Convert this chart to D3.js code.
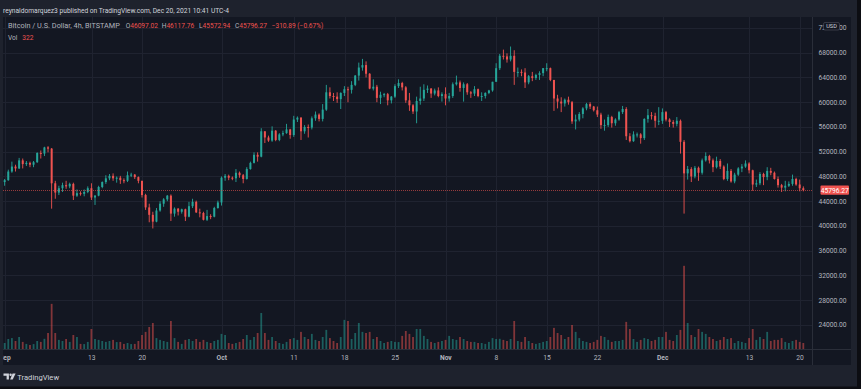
<!DOCTYPE html>
<html>
<head>
<meta charset="utf-8">
<script src="https://cdn.jsdelivr.net/npm/d3@7"></script>
<style>
  body { margin: 0; background: #0c0d12; }
  text { font-family: Roboto, "Liberation Sans", sans-serif; }
</style>
</head>
<body>
<div id="chart-area"></div>
<script>

let width = 861,
    height = 389;

// 12h candles, first one opens Aug 31 12:00 UTC (prices in thousand USD)
let firstOpenTime = "2021-08-31T12:00:00Z";
let firstOpen = 47.4;

let closes = [
  47.1, 47.4,48.8, 49.6,49.3, 50.6,50.0, 50.2,49.9, 50.3,51.8, 51.7,52.7,
  52.5,46.9, 45.4,46.1, 46.6,46.4, 46.8,44.9, 45.3,45.2, 45.5,46.1, 44.6,44.9,
  46.3,47.1, 47.7,48.1, 47.7,47.8, 47.4,47.3, 48.2,48.3, 47.9,47.3, 45.0,43.0,
  41.8,40.7, 42.5,43.6, 44.3,44.9, 42.0,42.8, 42.3,42.7, 41.5,43.2, 43.9,42.2,
  42.1,41.0, 41.6,41.5, 42.9,43.8, 47.8,48.1, 47.8,47.7, 48.6,48.2, 47.6,49.2,
  50.2,51.5, 51.2,55.3, 54.3,53.8, 55.4,53.9, 54.8,55.0, 55.6,54.7, 57.2,57.5,
  55.3,56.0, 55.9,57.4, 58.0,57.3, 58.8,61.6, 61.0,60.9, 60.5,61.5, 62.1,62.0,
  62.8,64.3, 65.6,66.0, 64.6,62.2, 62.5,60.7, 61.2,61.3, 60.3,60.9, 62.6,63.1,
  62.4,60.3, 59.5,58.5, 60.2,60.6, 62.0,62.2, 61.4,61.9, 61.0,61.3, 60.6,61.0,
  62.9,63.2, 62.3,62.9, 61.6,61.4, 62.1,61.0, 61.0,61.5, 61.9,63.3, 65.5,67.5,
  67.4,66.9, 67.5,64.9, 64.9,64.8, 63.2,64.2, 63.9,64.4, 64.7,65.5, 65.5,63.6,
  60.6,60.1, 59.8,60.4, 60.0,56.9, 57.2,58.1, 59.0,59.7, 59.3,58.7, 58.0,56.3,
  56.3,57.6, 56.6,57.2, 58.4,58.9, 54.5,53.7, 54.8,54.8, 54.2,57.3, 57.9,57.8,
  57.0,57.0, 58.4,57.2, 56.8,56.5, 57.0,53.6, 48.5,49.2, 48.0,49.4, 48.6,50.6,
  51.3,50.6, 49.5,50.5, 49.6,47.6, 48.9,47.2, 48.3,49.3, 49.6,50.1, 49.0,46.7,
  46.9,48.4, 47.9,48.9, 48.6,47.6, 46.6,46.2, 46.5,46.8, 47.6,46.7, 46.1,45.8
];

let highs = [
  48.2, 47.6,49.1, 50.4,49.9, 51.0,50.9, 50.5,50.4, 50.5,51.9, 52.2,52.8,
  52.9,52.6, 47.3,46.5, 47.0,47.3, 47.0,47.0, 45.9,45.6, 45.9,46.4, 46.9,45.0,
  46.5,47.2, 48.2,48.4, 48.5,48.0, 48.1,47.7, 48.8,48.6, 48.4,48.0, 47.3,45.2,
  43.6,42.3, 42.9,44.0, 44.5,45.0, 45.1,43.0, 42.9,42.8, 42.8,43.9, 44.4,44.1,
  42.8,42.3, 42.6,41.9, 43.1,44.1, 48.0,48.4, 48.3,48.0, 49.2,48.8, 48.4,49.5,
  50.4,51.9, 51.9,55.8, 55.3,54.6, 56.1,55.5, 55.0,55.4, 56.5,55.7, 57.8,57.7,
  57.6,56.3, 56.4,57.7, 58.5,58.2, 59.7,62.8, 62.4,61.5, 61.6,61.6, 62.6,62.5,
  63.4,64.4, 66.4,67.0, 66.6,64.7, 63.7,62.8, 61.7,61.5, 61.5,61.0, 62.9,63.7,
  63.3,62.6, 61.5,59.7, 60.9,62.5, 62.9,62.7, 62.3,62.2, 62.4,61.6, 62.4,61.5,
  63.2,64.3, 63.5,63.2, 63.1,61.8, 62.6,62.2, 61.6,61.6, 62.0,63.3, 66.3,67.8,
  68.5,67.9, 69.0,68.4, 65.6,65.3, 65.5,64.4, 64.9,64.6, 65.0,65.5, 66.3,65.6,
  63.6,61.2, 60.8,60.6, 60.9,60.2, 58.0,58.4, 59.2,59.9, 60.0,59.4, 59.3,58.3,
  57.2,58.0, 57.8,57.4, 58.6,59.4, 59.2,55.0, 55.3,55.1, 55.0,57.4, 58.9,58.4,
  58.3,59.2, 59.0,58.6, 57.4,57.1, 57.6,57.2, 53.9,49.7, 49.5,49.7, 49.6,50.9,
  51.9,51.5, 50.9,51.2, 50.8,49.8, 50.1,49.2, 48.6,49.5, 50.0,50.6, 50.3,49.1,
  47.5,48.7, 48.6,49.5, 49.4,48.8, 48.0,46.8, 47.3,47.2, 48.3,47.8, 47.5,46.4
];

let lows = [
  46.7, 46.5,47.3, 48.6,48.8, 49.2,49.3, 49.7,49.5, 49.5,50.2, 50.9,51.3,
  51.9,42.8, 44.4,45.0, 45.5,46.0, 46.1,44.2, 44.7,44.9, 44.8,45.3, 44.2,43.4,
  44.8,46.1, 46.8,47.4, 47.3,47.0, 46.8,46.9, 47.1,47.9, 47.6,46.9, 44.6,42.6,
  40.6,39.6, 40.6,42.3, 43.1,44.0, 40.8,41.5, 41.7,42.0, 40.8,41.4, 42.9,42.1,
  41.4,40.9, 40.8,41.1, 41.4,42.8, 43.3,47.3, 47.4,47.4, 47.1,47.8, 46.9,47.5,
  49.1,50.1, 50.4,51.1, 53.4,53.6, 53.6,53.7, 53.7,54.5, 54.9,54.1, 54.4,56.8,
  53.9,54.9, 54.3,55.6, 57.0,56.9, 56.9,58.6, 60.6,60.2, 59.9,58.9, 61.0,60.0,
  61.4,62.6, 63.5,65.1, 64.0,62.1, 61.9,60.0, 59.7,60.8, 59.5,59.8, 60.7,62.3,
  61.9,59.9, 58.6,58.1, 56.6,59.6, 60.2,61.5, 60.7,61.1, 60.8,60.1, 59.5,60.1,
  60.7,62.7, 61.7,60.1, 61.2,60.7, 61.0,60.8, 60.2,60.6, 61.3,61.7, 63.3,65.2,
  66.9,66.4, 66.6,62.8, 64.1,64.2, 62.3,62.9, 63.4,63.6, 63.6,64.2, 65.0,63.4,
  58.6,59.0, 58.4,59.3, 59.6,56.5, 55.6,56.9, 57.4,58.7, 58.9,58.5, 57.6,55.7,
  55.4,56.0, 55.9,56.2, 57.0,58.1, 53.9,53.5, 53.6,54.3, 53.3,53.9, 56.7,57.2,
  55.9,56.3, 56.5,56.9, 56.0,55.9, 56.1,51.7, 42.0,47.5, 47.1,47.7, 47.3,48.3,
  50.4,50.1, 48.7,49.3, 49.2,47.4, 47.3,47.0, 46.9,48.1, 48.7,49.4, 48.5,45.7,
  46.3,46.6, 46.6,47.4, 48.2,47.5, 46.2,45.5, 45.6,46.3, 46.5,46.5, 45.6,45.6
];

let volumes = [
  280, 330,550, 600,440, 660,390, 280,220, 270,440, 390,560,
  880,2480, 880,500, 440,550, 390,770, 660,280, 270,390, 1100,550,
  500,440, 390,440, 500,380, 390,280, 330,270, 280,440, 770,940,
  1210,1430, 600,500, 440,390, 1540,600, 390,280, 500,550, 440,550,
  390,500, 390,330, 440,500, 830,770, 330,280, 330,390, 550,770,
  500,660, 880,1980, 880,500, 660,440, 330,280, 390,550, 600,500,
  940,660, 550,830, 500,440, 660,1050, 600,440, 330,660, 1600,1540,
  550,880, 1430,940, 880,940, 550,660, 440,330, 390,440, 390,380,
  720,990, 830,660, 1100,1100, 720,550, 390,330, 390,440, 500,720,
  550,500, 660,550, 440,390, 390,330, 330,280, 390,600, 550,560,
  500,440, 550,1540, 440,390, 660,440, 330,280, 330,390, 440,660,
  1160,880, 770,550, 660,1320, 940,600, 440,390, 330,390, 500,720,
  660,500, 390,440, 440,500, 1490,1100, 550,390, 500,600, 550,440,
  500,660, 660,940, 500,440, 770,1050, 4570,1430, 770,660, 1100,940,
  830,660, 550,440, 500,660, 550,600, 330,440, 390,330, 600,1100,
  500,660, 550,940, 440,500, 500,600, 390,330, 440,500, 390,330
];

let priceTicks = [24000, 28000, 32000, 36000, 40000, 44000, 48000, 52000, 56000, 60000, 64000, 68000, 72000];
let timeTicks = ["2021-09-01", "2021-09-13", "2021-09-20", "2021-10-01", "2021-10-11", "2021-10-18", "2021-10-25",
                 "2021-11-01", "2021-11-08", "2021-11-15", "2021-11-22", "2021-12-01", "2021-12-13", "2021-12-20"];
let timeLabels = ["Sep", "13", "20", "Oct", "11", "18", "25", "Nov", "8", "15", "22", "Dec", "13", "20"];
let lastPrice = 45796.27;

let plotLeft = 3, plotRight = 812, plotTop = 17, plotBottom = 349;

let svg = d3.select("#chart-area").append("svg")
    .attr("width", width)
    .attr("height", height);

// frame and panes
svg.append("rect").attr("width", 857).attr("height", 386.5).attr("fill", "#1e222d");
svg.append("rect").attr("x", 3).attr("y", 17).attr("width", 848).attr("height", 348).attr("fill", "#131722");

let defs = svg.append("defs");
defs.append("clipPath").attr("id", "clip")
    .append("rect").attr("x", plotLeft).attr("y", plotTop)
    .attr("width", plotRight - plotLeft).attr("height", plotBottom - plotTop);
defs.append("clipPath").attr("id", "tclip")
    .append("rect").attr("x", plotLeft).attr("y", plotBottom)
    .attr("width", plotRight - plotLeft).attr("height", 16);

// chart axis is shown in UTC-4
let x = d3.scaleUtc()
    .domain([new Date("2021-09-13T00:00:00-04:00"), new Date("2021-12-20T00:00:00-04:00")])
    .range([91.7, 800]);
let y = d3.scaleLinear().domain([24000, 68000]).range([325, 52.7]);
let yVol = d3.scaleLinear().domain([0, 5000]).range([plotBottom, 258]);

function tickDate(d) { return new Date(d + "T00:00:00-04:00"); }

let candles = closes.map(function(c, i) {
  return {
    time: new Date(Date.parse(firstOpenTime) + i * 12 * 3600e3 + 3 * 3600e3),
    open: (i === 0 ? firstOpen : closes[i - 1]) * 1000,
    high: highs[i] * 1000,
    low: lows[i] * 1000,
    close: c * 1000,
    volume: volumes[i]
  };
});

// grid
let grid = svg.append("g").attr("stroke", "#1f2330").attr("stroke-width", 1);
grid.selectAll(".hgrid").data(priceTicks).enter().append("line")
    .attr("x1", plotLeft).attr("x2", plotRight)
    .attr("y1", function(d) { return Math.round(y(d)) + 0.5; })
    .attr("y2", function(d) { return Math.round(y(d)) + 0.5; });
grid.selectAll(".vgrid").data(timeTicks).enter().append("line")
    .attr("x1", function(d) { return Math.round(x(tickDate(d))) + 0.5; })
    .attr("x2", function(d) { return Math.round(x(tickDate(d))) + 0.5; })
    .attr("y1", plotTop).attr("y2", plotBottom);

// axis separators
svg.append("line").attr("x1", plotRight + 0.5).attr("x2", plotRight + 0.5).attr("y1", plotTop).attr("y2", 365)
    .attr("stroke", "#2a2e39");
svg.append("line").attr("x1", plotLeft).attr("x2", 851).attr("y1", plotBottom + 0.5).attr("y2", plotBottom + 0.5)
    .attr("stroke", "#2a2e39");

let plot = svg.append("g").attr("clip-path", "url(#clip)");

function up(d) { return d.close >= d.open; }

// volume
plot.selectAll(".vol").data(candles).enter().append("rect")
    .attr("class", "vol")
    .attr("x", function(d) { return x(d.time) - 0.9; })
    .attr("width", 1.8)
    .attr("y", function(d) { return yVol(d.volume); })
    .attr("height", function(d) { return plotBottom - yVol(d.volume); })
    .attr("fill", function(d) { return up(d) ? "rgba(38,166,154,0.5)" : "rgba(239,83,80,0.5)"; });

// candles
plot.selectAll(".wick").data(candles).enter().append("rect")
    .attr("class", "wick")
    .attr("x", function(d) { return x(d.time) - 0.45; })
    .attr("width", 0.9)
    .attr("y", function(d) { return y(d.high); })
    .attr("height", function(d) { return y(d.low) - y(d.high); })
    .attr("fill", function(d) { return up(d) ? "#26a69a" : "#ef5350"; });

plot.selectAll(".body").data(candles).enter().append("rect")
    .attr("class", "body")
    .attr("x", function(d) { return x(d.time) - 1; })
    .attr("width", 2)
    .attr("y", function(d) { return y(Math.max(d.open, d.close)); })
    .attr("height", function(d) { return Math.max(1, Math.abs(y(d.open) - y(d.close))); })
    .attr("fill", function(d) { return up(d) ? "#26a69a" : "#ef5350"; });

// last price line
plot.append("line")
    .attr("x1", plotLeft).attr("x2", plotRight)
    .attr("y1", Math.round(y(lastPrice)) + 0.5).attr("y2", Math.round(y(lastPrice)) + 0.5)
    .attr("stroke", "#ef5350").attr("stroke-opacity", 0.6).attr("stroke-dasharray", "1,1");

// price axis
svg.selectAll(".ptick").data(priceTicks).enter().append("text")
    .attr("x", 818.5)
    .attr("y", function(d) { return y(d) + 2.4; })
    .attr("fill", "#b2b5be")
    .style("font-size", "6.7px")
    .text(function(d) { return d3.format(".2f")(d); });

svg.append("rect").attr("x", 823.5).attr("y", 22.5).attr("width", 16).attr("height", 7.5).attr("rx", 1.5)
    .attr("fill", "#131722").attr("stroke", "#50535e").attr("stroke-width", 0.6);
svg.append("text").attr("x", 831.5).attr("y", 28.4).attr("text-anchor", "middle")
    .attr("fill", "#d1d4dc").style("font-size", "5.6px").text("USD");

svg.append("rect").attr("x", 820.5).attr("y", y(lastPrice) - 4.6).attr("width", 28.5).attr("height", 9.2)
    .attr("rx", 1).attr("fill", "#ef5350");
svg.append("text").attr("x", 834.7).attr("y", y(lastPrice) + 2.4).attr("text-anchor", "middle")
    .attr("fill", "#ffffff").style("font-size", "6.7px").text(d3.format(".2f")(lastPrice));

// time axis
let tclip = svg.append("g").attr("clip-path", "url(#tclip)");
tclip.selectAll(".ttick").data(timeTicks).enter().append("text")
    .attr("x", function(d) { return x(tickDate(d)); })
    .attr("y", 360.4)
    .attr("text-anchor", "middle")
    .attr("fill", "#b2b5be")
    .style("font-size", "6.7px")
    .style("font-weight", function(d, i) { return isNaN(+timeLabels[i]) ? "bold" : "normal"; })
    .text(function(d, i) { return timeLabels[i]; });

// header and legend
svg.append("text").attr("x", 3).attr("y", 12.6).attr("fill", "#d1d4dc").style("font-size", "6.65px")
    .text("reynaldomarquez3 published on TradingView.com, Dec 20, 2021 10:41 UTC-4");

let legend = svg.append("g").style("font-size", "6.6px");
legend.append("text").attr("x", 8).attr("y", 28.4).attr("fill", "#b2b5be").style("font-size", "7.3px")
    .text("Bitcoin / U.S. Dollar, 4h, BITSTAMP");
let ohlc = [["O", "46097.02", 125.7], ["H", "46117.76", 161.7], ["L", "45572.94", 199], ["C", "45796.27", 235]];
ohlc.forEach(function(p) {
  let t = legend.append("text").attr("x", p[2]).attr("y", 28.4);
  t.append("tspan").attr("fill", "#b2b5be").text(p[0]);
  t.append("tspan").attr("fill", "#ef5350").text(p[1]);
});
legend.append("text").attr("x", 271.7).attr("y", 28.4).attr("fill", "#ef5350").text("\u2212310.89 (\u22120.67%)");
legend.append("text").attr("x", 8).attr("y", 39.6).attr("fill", "#b2b5be").text("Vol");
legend.append("text").attr("x", 22.3).attr("y", 39.6).attr("fill", "#ef5350").text("322");

// TradingView logo
let logo = svg.append("g").attr("fill", "#d1d4dc");
logo.append("path").attr("d", "M3.5,373.4 h5.4 v6 h-2.3 v-3.6 h-3.1 z");
logo.append("circle").attr("cx", 10.6).attr("cy", 374.7).attr("r", 1.2);
logo.append("path").attr("d", "M12.6,373.4 h3 l-2.9,6 h-2.6 z");
svg.append("text").attr("x", 17.3).attr("y", 380).attr("fill", "#d1d4dc").style("font-size", "7.6px")
    .text("TradingView");

</script>
</body>
</html>
